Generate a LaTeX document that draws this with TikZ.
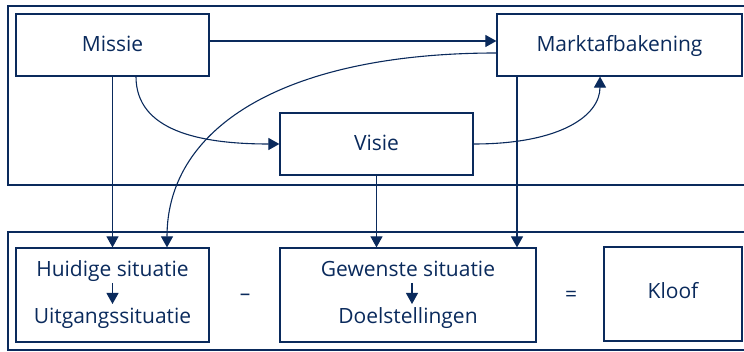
\documentclass[tikz,border=0pt]{standalone}
\usepackage{fontspec}
\setmainfont{Open Sans}
\usetikzlibrary{arrows.meta}
\definecolor{navy}{RGB}{10,42,92}
\tikzset{
  box/.style={draw=navy, line width=1.2pt, inner sep=0pt},
  frame/.style={draw=navy, line width=1.1pt},
  lbl/.style={text=navy, font=\fontsize{21}{25}\selectfont, inner sep=0pt, anchor=base},
  arr/.style={draw=navy, line width=1.1pt, -{Triangle[length=11pt,width=12pt]}},
}
\begin{document}
\begin{tikzpicture}[x=1pt,y=-1pt]
\useasboundingbox (0,0) rectangle (744,352);
\begin{scope}
\clip (0,0) rectangle (744,352);
\draw[frame] (770,6) -- (8,6) -- (8,185) -- (770,185);
\draw[frame] (770,232) -- (8,232) -- (8,350) -- (770,350);
\end{scope}
% boxes
\node[box, minimum width=193pt, minimum height=62pt] (missie) at (112.5,45) {};
\node[box, minimum width=245pt, minimum height=62pt] (markt) at (619.5,45) {};
\node[box, minimum width=193pt, minimum height=62pt] (visie) at (376.5,144) {};
\node[box, minimum width=193pt, minimum height=94pt] (huid) at (112.5,295) {};
\node[box, minimum width=256pt, minimum height=94pt] (gew) at (408,295) {};
\node[box, minimum width=138pt, minimum height=94pt] (kloof) at (673,294) {};
% texts
\node[lbl] (tmissie) at (112.5,52) {Missie};
\node[lbl] (tmarkt) at (619.5,52) {Marktafbakening};
\node[lbl] (tvisie) at (376.5,151) {Visie};
\node[lbl] (th1) at (112.5,277) {Huidige situatie};
\node[lbl] (th2) at (112.5,324) {Uitgangssituatie};
\node[lbl] (tg1) at (408,277) {Gewenste situatie};
\node[lbl] (tg2) at (408,324) {Doelstellingen};
\node[lbl] (tkloof) at (673,299) {Kloof};
\node[lbl] (minus) at (245,300.5) {–};
\node[lbl] (equal) at (571,302) {=};
% inner arrows
\draw[arr] ([yshift=-6pt]th1.base) -- ++(0,21);
\draw[arr] ([xshift=4pt,yshift=-6pt]tg1.base) -- ++(0,21);
% connectors
\draw[arr] ([yshift=4pt]missie.east) -- ([yshift=4pt]markt.west);
\draw[arr] (missie.south) -- (huid.north);
\draw[arr] ([xshift=23.5pt]missie.south) .. controls +(0,54) and +(-80,0) .. (visie.west);
\draw[arr] (visie.east) .. controls +(87,0) and +(0,39) .. ([xshift=-19.5pt]markt.south);
\draw[arr] ([yshift=-8pt]markt.west) .. controls +(-207,0) and +(0,-123) .. ([xshift=54.5pt]huid.north);
\draw[arr] (visie.south) -- (visie.south |- gew.north);
\draw[arr] ([xshift=-102.5pt]markt.south) -- ([xshift=109pt]gew.north);
\end{tikzpicture}
\end{document}
